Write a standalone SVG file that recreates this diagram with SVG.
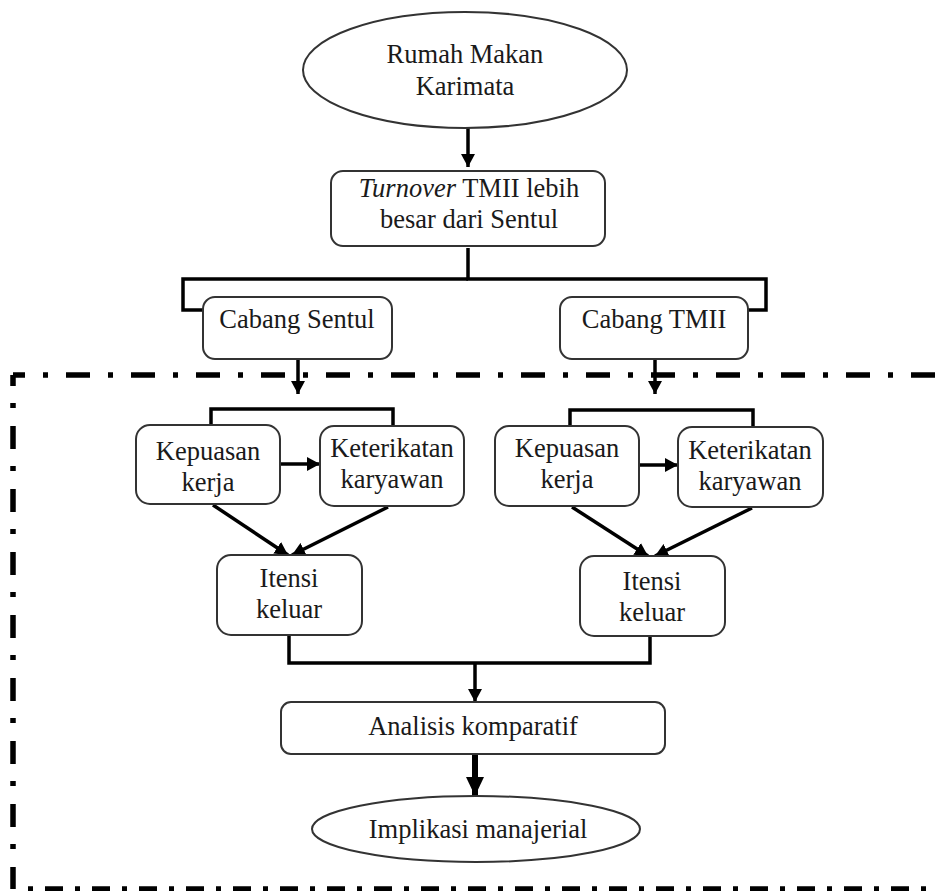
<svg xmlns="http://www.w3.org/2000/svg" width="937" height="891" viewBox="0 0 937 891">
<style>
.box{fill:#fff;stroke:#333;stroke-width:2}
.t{font-family:"Liberation Serif","Times New Roman",serif;font-size:26.5px;fill:#1a1a1a;text-anchor:middle}
.c{fill:none;stroke:#000;stroke-width:3.5}
.b{fill:none;stroke:#000;stroke-width:5.5}
</style>
<defs>
<marker id="ah" markerUnits="userSpaceOnUse" markerWidth="14" markerHeight="14" refX="13" refY="7" orient="auto"><path d="M0,0 L13,7 L0,14 z" fill="#000"/></marker>
<marker id="ahb" markerUnits="userSpaceOnUse" markerWidth="20" markerHeight="20" refX="19" refY="9" orient="auto"><path d="M0,0 L19,9 L0,18 z" fill="#000"/></marker>
</defs>
<rect width="937" height="891" fill="#fff"/>
<g id="border">
<path class="b" d="M13,375 H937" stroke-dasharray="24 18 5 18" stroke-dashoffset="12"/>
<path class="b" d="M13,375 V889" stroke-dasharray="23 17 5 18" stroke-dashoffset="12"/>
<path class="b" d="M28,889 H937" stroke-dasharray="5 12 18 12"/>
</g>
<g id="connectors">
<line class="c" x1="468" y1="128" x2="468" y2="167" marker-end="url(#ah)"/>
<path class="c" d="M468,248 V279 H766 V310 H748"/>
<path class="c" d="M468,279 H183 V310 H203"/>
<line class="c" x1="298" y1="359" x2="298" y2="394" marker-end="url(#ah)"/>
<line class="c" x1="655" y1="359" x2="655" y2="394" marker-end="url(#ah)"/>
<path class="c" d="M211,425 V409 H393 V426"/>
<path class="c" d="M570,426 V410 H753 V427"/>
<line class="c" x1="280" y1="464" x2="320" y2="464" marker-end="url(#ah)"/>
<line class="c" x1="639" y1="465" x2="678" y2="465" marker-end="url(#ah)"/>
<line class="c" x1="213" y1="505" x2="288" y2="555" marker-end="url(#ah)"/>
<line class="c" x1="388" y1="507" x2="292" y2="555" marker-end="url(#ah)"/>
<line class="c" x1="572" y1="507" x2="648" y2="556" marker-end="url(#ah)"/>
<line class="c" x1="752" y1="508" x2="655" y2="556" marker-end="url(#ah)"/>
<path class="c" d="M289,635 V663 H650 V636"/>
<line class="c" x1="475" y1="663" x2="475" y2="702" marker-end="url(#ah)"/>
<line x1="475" y1="755" x2="475" y2="796" stroke="#000" stroke-width="6" marker-end="url(#ahb)"/>
</g>
<g id="n-rumah">
<ellipse class="box" cx="465" cy="70" rx="162" ry="58"/>
<text class="t" x="465" y="63">Rumah Makan</text>
<text class="t" x="465" y="95">Karimata</text>
</g>
<g id="n-turnover">
<rect class="box" x="331" y="171" width="274" height="75" rx="12"/>
<text class="t" x="469" y="197"><tspan font-style="italic">Turnover</tspan> TMII lebih</text>
<text class="t" x="469" y="228">besar dari Sentul</text>
</g>
<g id="n-sentul">
<rect class="box" x="203" y="297" width="189" height="62" rx="12"/>
<text class="t" x="297" y="328">Cabang Sentul</text>
</g>
<g id="n-tmii">
<rect class="box" x="560" y="297" width="188" height="62" rx="12"/>
<text class="t" x="654" y="328">Cabang TMII</text>
</g>
<g id="n-kep1">
<rect class="box" x="136" y="425" width="144" height="79" rx="14"/>
<text class="t" x="208" y="460">Kepuasan</text>
<text class="t" x="208" y="491">kerja</text>
</g>
<g id="n-ket1">
<rect class="box" x="320" y="426" width="144" height="80" rx="14"/>
<text class="t" x="392" y="457">Keterikatan</text>
<text class="t" x="392" y="488">karyawan</text>
</g>
<g id="n-int1">
<rect class="box" x="217" y="555" width="145" height="80" rx="14"/>
<text class="t" x="289" y="587">Itensi</text>
<text class="t" x="289" y="618">keluar</text>
</g>
<g id="n-kep2">
<rect class="box" x="495" y="426" width="144" height="80" rx="14"/>
<text class="t" x="567" y="457">Kepuasan</text>
<text class="t" x="567" y="488">kerja</text>
</g>
<g id="n-ket2">
<rect class="box" x="678" y="427" width="145" height="80" rx="14"/>
<text class="t" x="750" y="459">Keterikatan</text>
<text class="t" x="750" y="490">karyawan</text>
</g>
<g id="n-int2">
<rect class="box" x="580" y="556" width="145" height="80" rx="14"/>
<text class="t" x="652" y="590">Itensi</text>
<text class="t" x="652" y="621">keluar</text>
</g>
<g id="n-analisis">
<rect class="box" x="281" y="702" width="384" height="52" rx="10"/>
<text class="t" x="473" y="735">Analisis komparatif</text>
</g>
<g id="n-implikasi">
<ellipse class="box" cx="476" cy="829" rx="164" ry="33"/>
<text class="t" x="478" y="838">Implikasi manajerial</text>
</g>
</svg>
